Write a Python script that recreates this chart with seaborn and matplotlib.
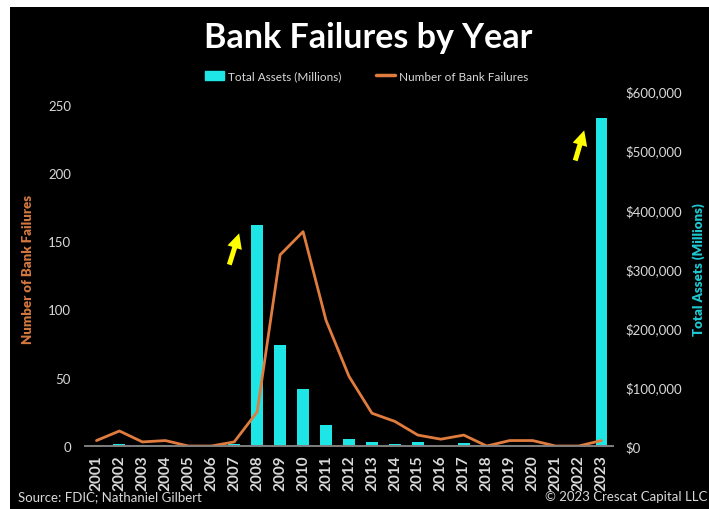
import numpy as np
import pandas as pd
import seaborn as sns
import matplotlib.pyplot as plt
from matplotlib.patches import Rectangle
from matplotlib.ticker import FuncFormatter

# datos
years = [str(y) for y in range(2001, 2024)]
failures = [4, 11, 3, 4, 0, 0, 3, 25, 140, 157, 92, 51, 24, 18, 8, 5, 8, 0, 4, 4, 0, 0, 4]
assets = [2500, 2900, 1000, 1500, 0, 0, 2600, 373600, 171000, 96000, 36000, 12000,
          6500, 3000, 6700, 300, 5500, 0, 500, 500, 0, 0, 554000]

df = pd.DataFrame({'Year': years, 'Failures': failures, 'Assets': assets})

cyan = '#1EE6E6'
orange = '#E07C3E'
txt = '#D9D9D9'

sns.set_theme(style='dark', rc={'axes.facecolor': 'black', 'figure.facecolor': 'white',
                                'axes.edgecolor': '#808080', 'text.color': txt,
                                'xtick.color': txt, 'ytick.color': txt})
plt.rcParams['font.family'] = ['Lato', 'DejaVu Sans']

fig = plt.figure(figsize=(7.09, 5.10), dpi=100)
# fondo negro con borde blanco arriba e izquierda
fig.patches.append(Rectangle((10 / 709, 0), 1, 1 - 8 / 510, transform=fig.transFigure,
                             facecolor='black', edgecolor='none', zorder=-10))

ax = fig.add_axes([0.1199, 0.1235, 0.7447, 0.6961])
sns.barplot(data=df, x='Year', y='Assets', color=cyan, saturation=1, width=0.52,
            edgecolor='none', linewidth=0, ax=ax)
ax.set_ylim(0, 600000)
ax.yaxis.set_major_formatter(FuncFormatter(lambda v, p: f'${v:,.0f}'))
ax.set_yticks(np.arange(0, 600001, 100000))

ax2 = ax.twinx()
sns.lineplot(x=np.arange(len(years)), y=failures, color=orange, lw=2, ax=ax2)
ax2.set_ylim(0, 260)
ax2.set_yticks(np.arange(0, 251, 50))

# ejes: activos a la derecha, quiebras a la izquierda
ax.yaxis.tick_right()
ax.yaxis.set_label_position('right')
ax2.yaxis.tick_left()
ax2.yaxis.set_label_position('left')

for a in (ax, ax2):
    a.set_facecolor('none')
    for s in ['top', 'left', 'right']:
        a.spines[s].set_visible(False)
    a.spines['bottom'].set_color('#7F7F7F')
    a.spines['bottom'].set_linewidth(1.2)
    a.tick_params(length=0)
    a.grid(False)
ax.set_facecolor('black')
ax.set_zorder(0)
ax2.set_zorder(1)

ax.set_xlim(-0.5, len(years) - 0.5)
ax.set_xlabel('')
ax.tick_params(axis='x', labelrotation=90, pad=6, labelsize=11)
for lab in ax.get_xticklabels():
    lab.set_fontweight('bold')
ax.tick_params(axis='y', pad=9, labelsize=9.5)
ax2.tick_params(axis='y', pad=10, labelsize=9.5)

ax.set_ylabel('Total Assets (Millions)', color='#1FC9D2', fontweight='heavy', fontsize=9.5, labelpad=7)
ax2.set_ylabel('Number of Bank Failures', color='#D4783F', fontweight='heavy', fontsize=9.5, labelpad=10)

# flechas amarillas
arrow = dict(arrowstyle='simple,head_width=0.9,head_length=0.9,tail_width=0.3',
             color='#FFFF00', lw=0)
ax.annotate('', xy=(6.25, 364000), xytext=(5.75, 302000), arrowprops=arrow)
ax.annotate('', xy=(21.28, 538000), xytext=(20.82, 478000), arrowprops=arrow)

fig.text(0.52, 0.925, 'Bank Failures by Year', ha='center', va='center',
         fontsize=24.5, fontweight='bold', color='white')

h1 = Rectangle((0, 0), 1, 1, color=cyan)
h2 = plt.Line2D([], [], color=orange, lw=2.5)
fig.legend([h1, h2], ['Total Assets (Millions)', 'Number of Bank Failures'],
           loc='center', bbox_to_anchor=(0.517, 0.849), ncol=2, frameon=False,
           fontsize=8.5, handlelength=1.6, handleheight=0.9, columnspacing=3.0,
           handletextpad=0.3, labelcolor=txt)

fig.text(0.025, 0.013, 'Source: FDIC; Nathaniel Gilbert', fontsize=9.5, color=txt, va='bottom')
fig.text(0.998, 0.013, '\u00a9 2023 Crescat Capital LLC', fontsize=9.5, color=txt, va='bottom', ha='right')

fig.savefig('out.png', dpi=100)
